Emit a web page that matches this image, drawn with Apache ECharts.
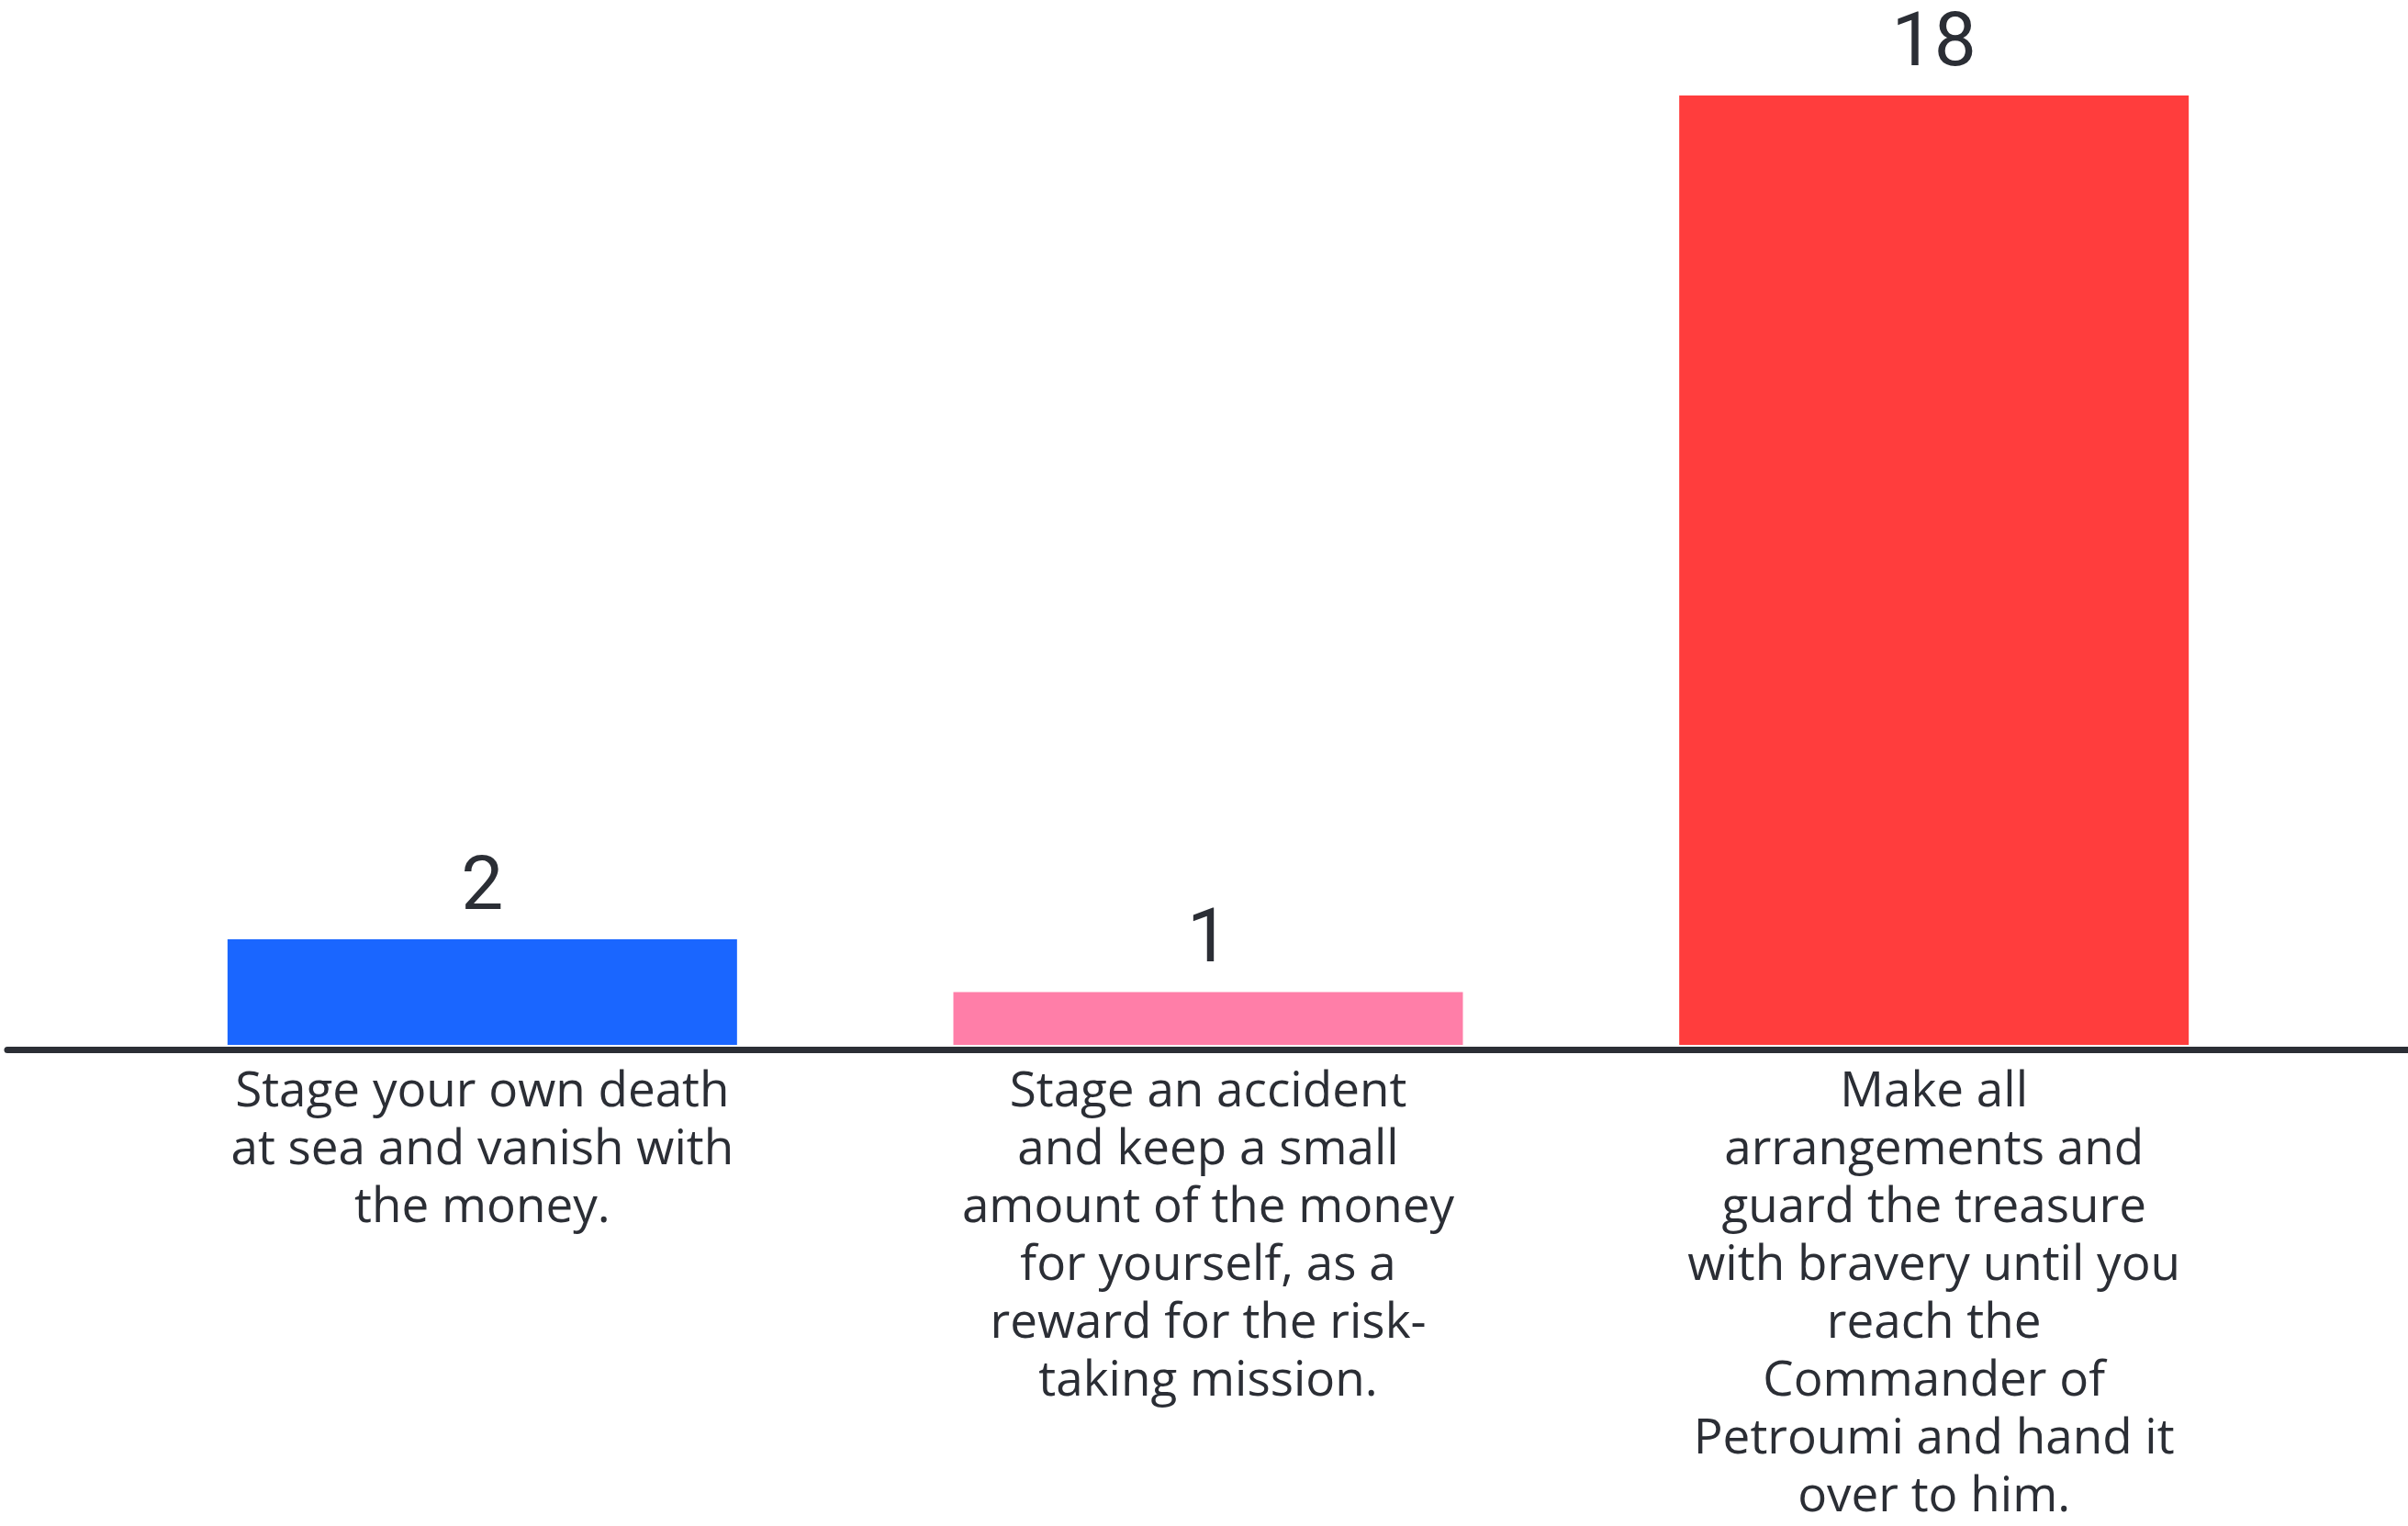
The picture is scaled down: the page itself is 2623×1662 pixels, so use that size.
<!DOCTYPE html>
<html>
<head>
<meta charset="utf-8">
<script src="https://cdn.jsdelivr.net/npm/echarts@6/dist/echarts.min.js"></script>
<style>
  html, body { margin: 0; padding: 0; background: #fff; }
  #chart { width: 2623px; height: 1662px; }
</style>
</head>
<body>
<div id="chart"></div>
<script>
var categories = [
  "Stage your own death\nat sea and vanish with\nthe money.",
  "Stage an accident\nand keep a small\namount of the money\nfor yourself, as a\nreward for the risk-\ntaking mission.",
  "Make all\narrangements and\nguard the treasure\nwith bravery until you\nreach the\nCommander of\nPetroumi and hand it\nover to him."
];
var votes = [2, 1, 18];
var barColors = ["#1a66ff", "#ff7ea8", "#ff3d3d"];

var textColor = "#2b2e35";

var myChart = echarts.init(document.getElementById("chart"));

var option = {
  backgroundColor: "#ffffff",
  animation: false,
  grid: [
    { left: 130, right: 121, top: 104, bottom: 523 },
    // full-width grid only used for the long baseline
    { left: 8, right: 0, top: 104, bottom: 519 }
  ],
  xAxis: [
    {
      type: "category",
      gridIndex: 0,
      data: categories,
      axisLine: { show: false },
      axisTick: { show: false },
      axisLabel: {
        interval: 0,
        margin: 20,
        color: textColor,
        fontFamily: "Open Sans",
        fontSize: 53,
        lineHeight: 63,
        align: "center"
      }
    },
    {
      type: "value",
      gridIndex: 1,
      min: 0,
      max: 1,
      axisLine: { show: true, onZero: false, lineStyle: { color: textColor, width: 7 } },
      axisTick: { show: false },
      axisLabel: { show: false },
      splitLine: { show: false }
    }
  ],
  yAxis: [
    {
      type: "value",
      gridIndex: 0,
      min: 0,
      max: 18,
      show: false
    },
    {
      type: "value",
      gridIndex: 1,
      min: 0,
      max: 1,
      show: false
    }
  ],
  series: [
    {
      type: "bar",
      xAxisIndex: 0,
      yAxisIndex: 0,
      barWidth: 555,
      z: 1,
      data: votes.map(function (v, i) {
        return { value: v, itemStyle: { color: barColors[i] } };
      }),
      label: {
        show: true,
        position: "top",
        distance: 13,
        color: textColor,
        fontFamily: "Roboto",
        fontSize: 82
      }
    }
  ]
};

myChart.setOption(option);
</script>
</body>
</html>
